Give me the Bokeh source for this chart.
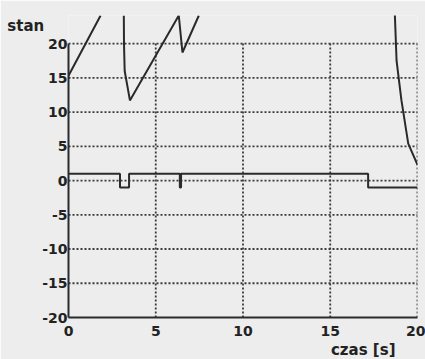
import math
from bokeh.plotting import figure
from bokeh.models import Range1d, FixedTicker, Title
from bokeh.embed import file_html
from bokeh.resources import INLINE

NAN = float("nan")

# Tick values
x_ticks = [0, 5, 10, 15, 20]
y_ticks = [-20, -15, -10, -5, 0, 5, 10, 15, 20]

# "stan" (state) trace, NaN separates pieces that leave the top of the window
state_t = [0.0, 1.84, NAN,
           3.17, 3.18, 3.22, 3.52, 6.32, 6.53, 7.47, NAN,
           18.70, 18.80, 19.08, 19.47, 20.0]
state_v = [15.3, 24.1, NAN,
           24.1, 20.0, 16.0, 11.7, 24.1, 18.7, 24.1, NAN,
           24.4, 17.5, 11.7, 5.4, 2.3]

# Control signal (step trace)
ctrl_t = [0.0, 2.95, 2.95, 3.47, 3.47, 6.38, 6.38, 6.45, 6.45, 17.17, 17.17, 20.0]
ctrl_v = [1, 1, -1, -1, 1, 1, -1, -1, 1, 1, -1, -1]

BG = "#ededed"
INK = "#2b2b2b"

p = figure(width=425, height=359,
           x_range=Range1d(0, 20), y_range=Range1d(-20, 24.1),
           output_backend="svg", toolbar_location=None,
           min_border_left=68, min_border_right=8,
           min_border_top=15, min_border_bottom=42)
p.outline_line_color = None
p.grid.visible = False
p.background_fill_color = BG
p.border_fill_color = BG

# dotted grid drawn from tick values
gx = [t for t in x_ticks if t != 0]
gy = [t for t in y_ticks if t != -20]
p.segment(x0=gx, y0=[-20] * len(gx), x1=gx, y1=[20] * len(gx),
          line_color="#3a3a3a", line_width=1.8, line_dash="2 2")
p.segment(x0=[0] * len(gy), y0=gy, x1=[20] * len(gy), y1=gy,
          line_color="#3a3a3a", line_width=1.8, line_dash="2 2")

p.line(ctrl_t, ctrl_v, line_color=INK, line_width=2)
p.line(state_t, state_v, line_color="#2a2a2a", line_width=2)

for ax in (p.xaxis[0], p.yaxis[0]):
    ax.axis_line_color = INK
    ax.axis_line_width = 2
    ax.major_tick_out = 0
    ax.major_tick_in = 0
    ax.minor_tick_out = 0
    ax.minor_tick_in = 0
    ax.major_label_text_font = "DejaVu Sans"
    ax.major_label_text_font_style = "bold"
    ax.major_label_text_font_size = "14px"
    ax.major_label_text_color = "#222222"

p.xaxis.ticker = FixedTicker(ticks=x_ticks)
p.yaxis.ticker = FixedTicker(ticks=y_ticks)
p.yaxis.major_label_overrides = {t: str(t) for t in y_ticks}
p.yaxis.bounds = (-20, 20)
p.xaxis.major_label_standoff = 8
p.yaxis.major_label_standoff = 1

ya = p.yaxis[0]
ya.axis_label = "\nstan"
ya.axis_label_orientation = "horizontal"
ya.axis_label_standoff = -5
ya.axis_label_text_font = "DejaVu Sans"
ya.axis_label_text_font_style = "bold"
ya.axis_label_text_font_size = "15px"
ya.axis_label_text_color = "#222222"
ya.axis_label_align = "end"

t = Title(text="czas [s]", align="right", offset=22, standoff=0,
          text_font="DejaVu Sans", text_font_style="bold",
          text_font_size="15px", text_color="#222222")
p.add_layout(t, "below")

open("out.html", "w").write(file_html(p, INLINE))
